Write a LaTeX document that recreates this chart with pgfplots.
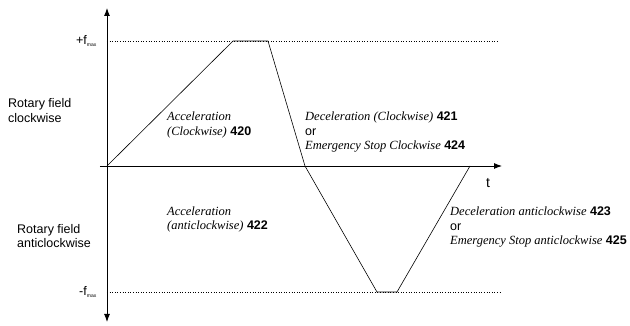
\documentclass[border=0pt]{standalone}
\usepackage{fontspec}
\setmainfont{Liberation Serif}
\setsansfont{Liberation Sans}
\usepackage{pgfplots}
\pgfplotsset{compat=1.18}
\usetikzlibrary{arrows.meta}

\newcommand{\ital}[1]{{\rmfamily\itshape #1}}
\newcommand{\nr}[1]{{\sffamily\bfseries #1}}

\begin{document}
\begin{tikzpicture}
\begin{axis}[
    scale only axis,
    width=402pt, height=314pt,
    xmin=-7, xmax=395, ymin=-156, ymax=158,
    axis lines=middle,
    xtick=\empty, ytick=\empty,
    x axis line style={line width=0.9pt, -{Latex[length=8pt,width=6pt]}},
    y axis line style={line width=0.9pt, {Latex[length=8pt,width=6pt]}-{Latex[length=8pt,width=6pt]}},
    clip=false,
    font=\sffamily\fontsize{12.5}{14.5}\selectfont,
    every node/.append style={font=\sffamily\fontsize{12.5}{14.5}\selectfont},
]
% speed profile
\addplot[black, line width=0.6pt] coordinates {
    (0,0) (126,125) (161,125) (198,0) (270,-126) (290,-126) (363,0)};
% limit lines
\addplot[black, dotted, line width=0.6pt] coordinates {(0,125) (391,125)};
\addplot[black, dotted, line width=0.6pt] coordinates {(0,-126) (393,-126)};

\node[anchor=east, inner sep=0] at (axis cs:-10,125) {+f\textsubscript{\tiny max}};
\node[anchor=east, inner sep=0] at (axis cs:-10,-126) {-f\textsubscript{\tiny max}};
\node[inner sep=0] at (axis cs:381,-17) {\fontsize{14}{14}\selectfont t};

\node[anchor=west, inner sep=0, align=left] at (axis cs:-99,55.5) {Rotary field\\clockwise};
\node[anchor=west, inner sep=0, align=left] at (axis cs:-90,-70) {Rotary field\\anticlockwise};

\node[anchor=west, inner sep=0, align=left] at (axis cs:60,41)
    {\ital{Acceleration}\\\ital{(Clockwise)} \nr{420}};
\node[anchor=west, inner sep=0, align=left] at (axis cs:198,34)
    {\ital{Deceleration (Clockwise)} \nr{421}\\or\\\ital{Emergency Stop Clockwise} \nr{424}};
\node[anchor=west, inner sep=0, align=left] at (axis cs:60,-53.5)
    {\ital{Acceleration}\\\ital{(anticlockwise)} \nr{422}};
\node[anchor=west, inner sep=0, align=left] at (axis cs:343,-61)
    {\ital{Deceleration anticlockwise} \nr{423}\\or\\\ital{Emergency Stop anticlockwise} \nr{425}};

\coordinate (bl) at (axis cs:-107,-160);
\coordinate (tr) at (axis cs:523,166);
\end{axis}
\pgfresetboundingbox
\path[use as bounding box] (bl) rectangle (tr);
\end{tikzpicture}
\end{document}
